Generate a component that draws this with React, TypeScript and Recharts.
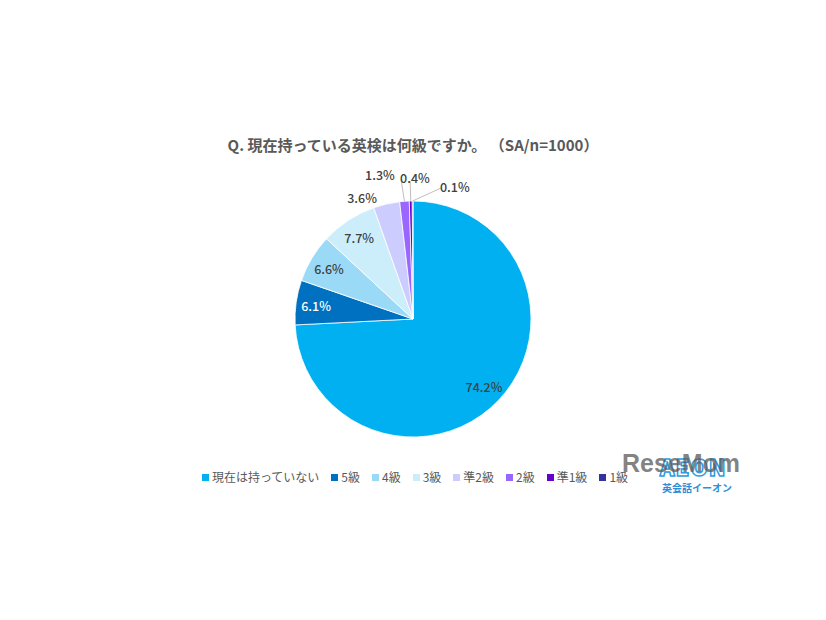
import React from "react";
import { PieChart, Pie, Cell } from "recharts";

const categories = ["現在は持っていない", "5級", "4級", "3級", "準2級", "2級", "準1級", "1級"];
const shares = [74.2, 6.1, 6.6, 7.7, 3.6, 1.3, 0.4, 0.1];
const colors = ["#00B0F0", "#0070C0", "#9BDAF6", "#CCEEFB", "#CCCCFF", "#9966FF", "#6600CC", "#333399"];

const chartData = categories.map((name, i) => ({ name, value: shares[i] }));

const RAD = Math.PI / 180;
const FONT = '"Noto Sans CJK JP", "Noto Sans", sans-serif';

// outside labels for the thin slices: [angle, radius] of text and of the leader end
const outside: Record<number, { at: [number, number]; end?: [number, number] }> = {
  4: { at: [112.7, 132] },
  5: { at: [102.9, 148], end: [94.9, 140] },
  6: { at: [89.2, 142], end: [91.2, 138] },
  7: { at: [72.5, 139], end: [77.9, 134] },
};

const polar = (cx: number, cy: number, r: number, angle: number) => ({
  x: cx + r * Math.cos(-angle * RAD),
  y: cy + r * Math.sin(-angle * RAD),
});

function renderLabel(props: any) {
  const { cx, cy, midAngle, outerRadius, index, value } = props;
  const o = outside[index];
  const p = o ? polar(cx, cy, o.at[1], o.at[0]) : polar(cx, cy, outerRadius * 0.83, midAngle);
  return (
    <text
      x={p.x}
      y={p.y}
      textAnchor="middle"
      dominantBaseline="central"
      fontSize={12.5}
      fontWeight={500}
      fontFamily={FONT}
      fill={index === 1 ? "#ffffff" : "#404040"}
    >
      {`${value.toFixed(1)}%`}
    </text>
  );
}

function renderLabelLine(props: any) {
  const { cx, cy, midAngle, outerRadius, index } = props;
  const o = outside[index];
  if (!o || !o.end) return <g />;
  const a = polar(cx, cy, outerRadius, midAngle);
  const b = polar(cx, cy, o.end[1], o.end[0]);
  return <path d={`M${a.x},${a.y}L${b.x},${b.y}`} stroke="#bfbfbf" strokeWidth={1} fill="none" />;
}

function ChartLegend() {
  return (
    <div
      style={{
        position: "absolute",
        top: 468,
        left: 0,
        width: 826,
        paddingLeft: 2,
        display: "flex",
        justifyContent: "center",
        gap: 12,
        fontSize: 12,
        color: "#595959",
        lineHeight: "18px",
      }}
    >
      {categories.map((c, i) => (
        <div key={c} style={{ display: "flex", alignItems: "center" }}>
          <span style={{ width: 7, height: 7, background: colors[i], marginRight: 3, display: "inline-block" }} />
          <span>{c}</span>
        </div>
      ))}
    </div>
  );
}

export default function App() {
  return (
    <div style={{ position: "absolute", left: 0, top: 0, width: 826, height: 620, background: "#fff", fontFamily: FONT }}>
      <div
        style={{
          position: "absolute",
          top: 134,
          left: 0,
          width: 826,
          textAlign: "center",
          fontSize: 15,
          fontWeight: 700,
          color: "#595959",
        }}
      >
        Q. 現在持っている英検は何級ですか。 （SA/n=1000）
      </div>
      <PieChart
        width={826}
        height={620}
        margin={{ top: 0, right: 0, bottom: 0, left: 0 }}
        style={{ position: "absolute", left: 0, top: 0 }}
      >
        <Pie
          data={chartData}
          dataKey="value"
          nameKey="name"
          cx={413}
          cy={319}
          outerRadius={118}
          startAngle={90}
          endAngle={-270}
          stroke="#ffffff"
          strokeWidth={0.8}
          label={renderLabel}
          labelLine={renderLabelLine}
          isAnimationActive={false}
        >
          {chartData.map((d, i) => (
            <Cell key={d.name} fill={colors[i]} />
          ))}
        </Pie>
      </PieChart>
      <ChartLegend />
      <div
        style={{
          position: "absolute",
          left: 660,
          top: 450,
          fontSize: 22,
          fontWeight: 900,
          color: "#ffffff",
          WebkitTextStroke: "1.5px #2E9BE0",
          letterSpacing: 1,
        }}
      >
        AEON
      </div>
      <div style={{ position: "absolute", left: 662, top: 480, fontSize: 10, fontWeight: 700, color: "#2E8FD8" }}>
        英会話イーオン
      </div>
      <div
        style={{
          position: "absolute",
          left: 622,
          top: 449,
          fontSize: 25,
          fontWeight: 700,
          color: "rgba(90,90,90,0.75)",
          fontFamily: '"Liberation Sans", Arial, sans-serif',
        }}
      >
        ReseMom
      </div>
    </div>
  );
}
